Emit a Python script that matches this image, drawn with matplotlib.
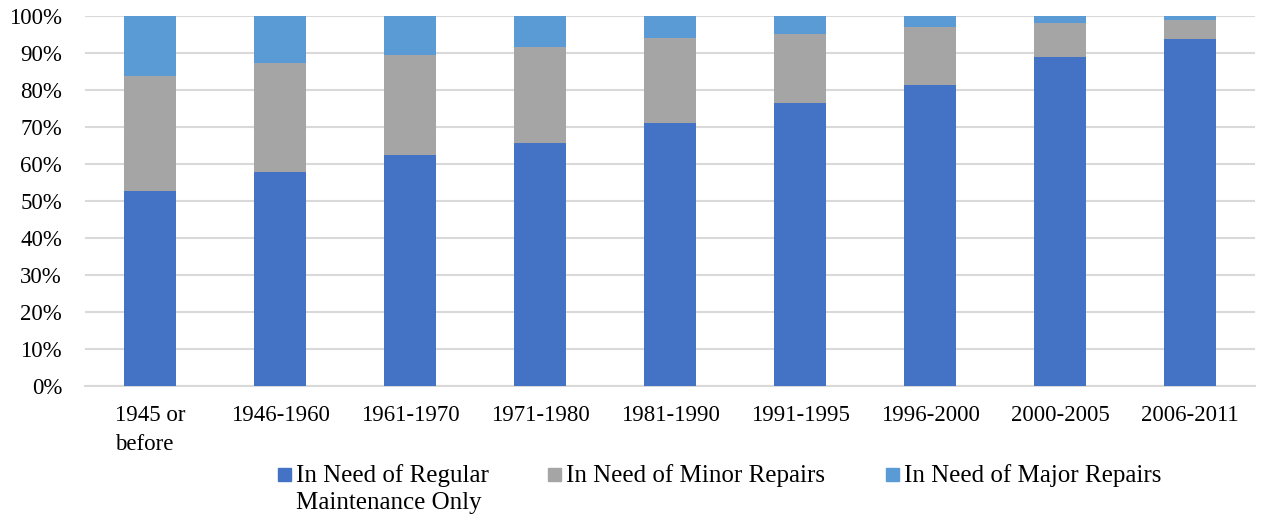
import numpy as np
import matplotlib
matplotlib.use("Agg")
import matplotlib.pyplot as plt
from matplotlib.patches import Rectangle

# periodos de construcao e parcelas (%)
periods = ["1945 or\nbefore", "1946-1960", "1961-1970", "1971-1980", "1981-1990",
           "1991-1995", "1996-2000", "2000-2005", "2006-2011"]
regular = [52.7, 57.8, 62.4, 65.7, 71.1, 76.5, 81.4, 88.9, 93.7]
minor = [31.1, 29.5, 27.1, 25.9, 23.0, 18.6, 15.6, 9.3, 5.1]
major = [16.2, 12.7, 10.5, 8.4, 5.9, 4.9, 3.0, 1.8, 1.2]

series_labels = ["In Need of Regular\nMaintenance Only",
                 "In Need of Minor Repairs",
                 "In Need of Major Repairs"]
colors = ["#4472C4", "#A5A5A5", "#5B9BD5"]

plt.rcParams['font.family'] = ['Liberation Serif', 'DejaVu Serif']

W, H = 1267, 520
fig = plt.figure(figsize=(W / 100, H / 100), dpi=100)
ax = fig.add_axes([85 / W, 1 - 386 / H, 1170 / W, 370 / H])

x = np.arange(len(periods))
bottom = np.zeros(len(periods))
for vals, col, lab in zip([regular, minor, major], colors, series_labels):
    ax.bar(x, vals, width=0.4, bottom=bottom, color=col, label=lab, zorder=3)
    bottom += np.array(vals)

ax.set_xlim(-0.5, len(periods) - 0.5)
ax.set_ylim(0, 100)
ax.set_yticks(np.arange(0, 101, 10))
ax.set_yticklabels([f"{v}%" for v in range(0, 101, 10)], fontsize=16.5)
ax.set_xticks(x)
ax.set_xticklabels(periods, fontsize=16.5, multialignment='left', linespacing=1.45)
ax.tick_params(axis='both', length=0)
ax.tick_params(axis='x', pad=14)
ax.tick_params(axis='y', pad=16.5)

ax.grid(axis='y', color='#D9D9D9', linewidth=1.5, zorder=0)
for s in ['top', 'right', 'left']:
    ax.spines[s].set_visible(False)
ax.spines['bottom'].set_color('#D9D9D9')
ax.spines['bottom'].set_linewidth(1.5)

# legenda desenhada a mao (texto alinhado pela primeira linha, como no original)
leg_x = [278, 548, 886]
for px, col, lab in zip(leg_x, colors, series_labels):
    fig.patches.append(Rectangle((px / W, 1 - 481 / H), 13 / W, 13 / H,
                                 transform=fig.transFigure, color=col))
    fig.text((px + 18) / W, 1 - 464 / H, lab, fontsize=18, va='top', ha='left',
             linespacing=1.3)

fig.savefig("out.png", dpi=100)
